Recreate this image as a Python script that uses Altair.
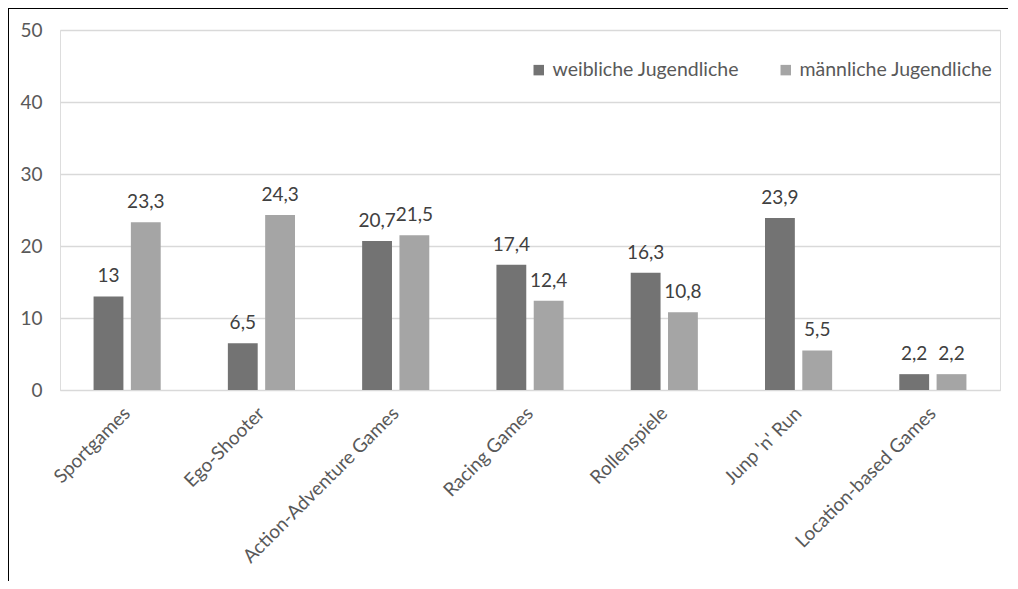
import altair as alt
import pandas as pd

categories = ["Sportgames", "Ego-Shooter", "Action-Adventure Games", "Racing Games",
              "Rollenspiele", "Junp 'n' Run", "Location-based Games"]
weiblich = [13, 6.5, 20.7, 17.4, 16.3, 23.9, 2.2]
maennlich = [23.3, 24.3, 21.5, 12.4, 10.8, 5.5, 2.2]
series = ["weibliche Jugendliche", "männliche Jugendliche"]
colors = ["#737373", "#a5a5a5"]

rows = []
for c, w, m in zip(categories, weiblich, maennlich):
    for s, v in zip(series, [w, m]):
        lab = (f"{v:g}").replace(".", ",")
        rows.append({"cat": c, "series": s, "value": v, "label": lab})
df = pd.DataFrame(rows)

FONT = "Lato"

x = alt.X("cat:N", sort=categories, title=None,
          scale=alt.Scale(paddingInner=0.5, paddingOuter=0.25),
          axis=alt.Axis(labelAngle=-45, labelAlign="right", labelBaseline="middle",
                        labelFontSize=19, labelColor="#595959", labelFont=FONT,
                        ticks=False, domain=True, domainColor="#d9d9d9",
                        labelPadding=20, grid=False, labelLimit=0))
xo = alt.XOffset("series:N", sort=series, scale=alt.Scale(paddingInner=0.2))
y = alt.Y("value:Q", title=None,
          scale=alt.Scale(domain=[0, 50], nice=False),
          axis=alt.Axis(values=[0, 10, 20, 30, 40, 50], labelFontSize=19,
                        labelColor="#595959", labelFont=FONT, ticks=False,
                        domain=False, gridColor="#d9d9d9", gridWidth=1.5,
                        labelPadding=18))

bars = alt.Chart(df).mark_bar().encode(
    x=x, xOffset=xo, y=y,
    color=alt.Color("series:N", sort=series,
                    scale=alt.Scale(domain=series, range=colors),
                    legend=alt.Legend(title=None, orient="none", legendX=469, legendY=30,
                                      direction="horizontal", symbolType="square",
                                      symbolSize=110, symbolStrokeWidth=0,
                                      labelFontSize=19.5, labelColor="#595959",
                                      labelFont=FONT, columnPadding=36, labelOffset=4,
                                      labelLimit=0))
)

text = alt.Chart(df).mark_text(baseline="bottom", dy=-10, fontSize=19,
                               color="#404040", font=FONT).encode(
    x=alt.X("cat:N", sort=categories), xOffset=xo, y=y, text="label:N"
)

frame_df = pd.DataFrame({"a": [0]})
left_edge = alt.Chart(frame_df).mark_rule(color="black", strokeWidth=2).encode(
    x=alt.value(-52), y=alt.value(-23), y2=alt.value(551))
top_edge = alt.Chart(frame_df).mark_rule(color="black", strokeWidth=2).encode(
    x=alt.value(-53), x2=alt.value(950), y=alt.value(-22))

chart = alt.layer(bars, text, left_edge, top_edge).properties(
    width=940, height=360,
    autosize=alt.AutoSizeParams(type="none"),
    padding={"left": 52, "top": 22, "right": 8, "bottom": 191},
).configure_view(stroke=None).configure(background="white")

chart.save("out.html", embed_options={"renderer": "svg", "actions": False})
